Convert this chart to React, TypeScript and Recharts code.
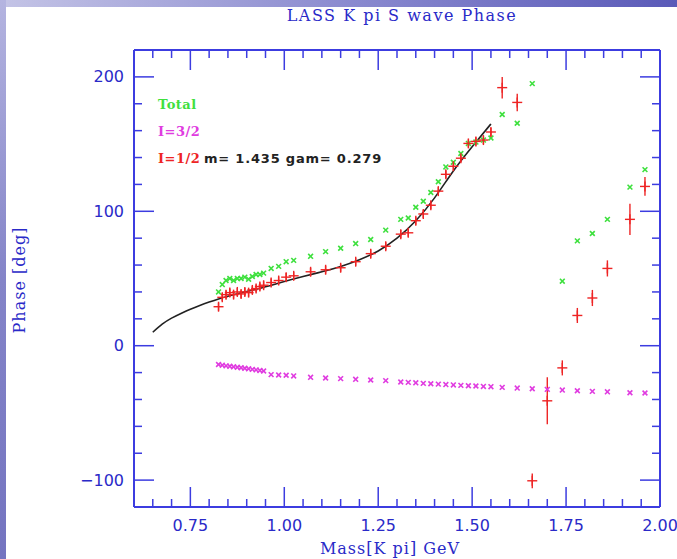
import React from 'react';
import { ComposedChart, XAxis, YAxis, Scatter, Line, ErrorBar } from 'recharts';

// ---- data ----
const massPoints = [
  0.825, 0.835, 0.845, 0.855, 0.865, 0.875, 0.885, 0.895, 0.905, 0.915, 0.925, 0.935, 0.945,
  0.965, 0.985, 1.005, 1.025, 1.07, 1.11, 1.15, 1.19, 1.23, 1.27,
  1.31, 1.33, 1.35, 1.37, 1.39, 1.41, 1.43, 1.45, 1.47, 1.49, 1.51, 1.53, 1.55,
  1.58, 1.62, 1.66, 1.70, 1.74, 1.78, 1.82, 1.86, 1.92, 1.96,
];
const totalPhase: (number | null)[] = [
  40, 45.5, 48.5, 50, 48.5, 50, 50, 51, 49.5, 51.5, 53, 53, 54,
  57.5, 59, 62.5, 63.5, 66.5, 70, 72.5, 76, 79, 86,
  94, 95, 103, 107.5, 114, 122, 133, 136.5, 143, 150.5, 151.5, 153, 154.5,
  172, 165.5, 195, null, 48, 78, 83.5, 94, 118, 131,
];
const i32Phase = [
  -14, -14.5, -15, -15.3, -15.7, -16, -16.4, -16.8, -17.2, -17.6, -18, -18.4, -18.8,
  -21.5, -21.8, -22, -22.5, -23.5, -24, -24.5, -25, -25.5, -26,
  -27, -27.3, -27.6, -28, -28.3, -28.6, -28.9, -29.2, -29.5, -29.8, -30, -30.3, -30.5,
  -31, -31.5, -32, -32.5, -33, -33.5, -34, -34.3, -35, -35.2,
];
const i12Phase = [
  29, 36, 38, 39.5, 38, 40, 38.5, 40, 39.5, 41.5, 42.5, 44, 45,
  47, 48.5, 51, 52, 55, 56.5, 58, 62.5, 68.5, 74,
  83, 84, 93, 98, 104.5, 115, 127.5, 133.5, 139.5, 150.5, 152, 153, 159,
  192, 181, -100.5, -41, -16.5, 22.5, 35.5, 57.5, 94, 118.5,
];
const i12Err = [
  3, 3, 3, 3, 3, 3, 3, 3, 3, 3, 3, 3, 3,
  3, 3, 3, 3, 3, 3, 3, 3, 3, 3,
  3, 3, 3, 3, 3, 3, 3, 3, 3, 3, 3, 3, 3,
  8, 6.5, 5.5, 17.5, 5.6, 5.6, 6, 6, 11.6, 7,
];
const fitMass = [
  0.65, 0.675, 0.7, 0.725, 0.75, 0.775, 0.8, 0.825, 0.85, 0.875, 0.9, 0.925, 0.95, 0.975,
  1.0, 1.05, 1.1, 1.15, 1.2, 1.25, 1.3, 1.35, 1.4, 1.45, 1.5, 1.55,
];
const fitPhase = [
  10, 16, 20.5, 24, 27.2, 30, 32.5, 34.8, 36.8, 38.6, 40.3, 42, 43.8, 45.8,
  47.8, 51.5, 55, 59, 64, 70.5, 80, 93, 110, 130, 148, 165,
];

const xMajorTicks = [0.75, 1.0, 1.25, 1.5, 1.75, 2.0];
const xTickLabels = ['0.75', '1.00', '1.25', '1.50', '1.75', '2.00'];
const xMinorTicks = [0.65, 0.7, 0.8, 0.85, 0.9, 0.95, 1.05, 1.1, 1.15, 1.2, 1.3, 1.35, 1.4, 1.45, 1.55, 1.6, 1.65, 1.7, 1.8, 1.85, 1.9, 1.95];
const yMajorTicks = [-100, 0, 100, 200];
const yTickLabels = ['\u2212100', '0', '100', '200'];
const yMinorTicks = [-80, -60, -40, -20, 20, 40, 60, 80, 120, 140, 160, 180];

const titleText = 'LASS K pi S wave Phase';
const xLabelText = 'Mass[K pi] GeV';
const yLabelText = 'Phase [deg]';
const legendTotal = 'Total';
const legendI32 = 'I=3/2';
const legendI12 = 'I=1/2';
const fitText = 'm= 1.435 gam= 0.279';

// ---- styles ----
const W = 677;
const H = 559;
const BLUE = '#3c3ce0';
const TXT = '#2a2ac8';
const GREEN = '#3ee03e';
const MAGENTA = '#e03ce0';
const RED = '#ee2424';

const totalData = massPoints
  .map((m, i) => ({ m, phase: totalPhase[i] }))
  .filter((d) => d.phase !== null);
const i32Data = massPoints.map((m, i) => ({ m, phase: i32Phase[i] }));
const i12Data = massPoints.map((m, i) => ({ m, phase: i12Phase[i], err: i12Err[i] }));
const fitData = fitMass.map((m, i) => ({ m, phase: fitPhase[i] }));

const xTicks = [...xMinorTicks, ...xMajorTicks].sort((a, b) => a - b);
const yTicks = [...yMinorTicks, ...yMajorTicks].sort((a, b) => a - b);
const majorIdx = (arr: number[], v: number) => arr.findIndex((t) => Math.abs(t - v) < 1e-6);

const MAJ = 20;
const MIN = 8;

const BottomTick = (p: any) => {
  const { x, y, payload } = p;
  const i = majorIdx(xMajorTicks, payload.value);
  const len = i >= 0 ? MAJ : MIN;
  return (
    <g>
      <line x1={x} x2={x} y1={y} y2={y - len} stroke={BLUE} strokeWidth={1.5} />
      {i >= 0 && (
        <text x={x} y={y + 18} textAnchor="middle" dominantBaseline="central" fill={TXT} fontSize={16} fontFamily="DejaVu Sans">
          {xTickLabels[i]}
        </text>
      )}
    </g>
  );
};
const TopTick = (p: any) => {
  const { x, y, payload } = p;
  const i = majorIdx(xMajorTicks, payload.value);
  const len = i >= 0 ? MAJ : MIN;
  return <line x1={x} x2={x} y1={y} y2={y + len} stroke={BLUE} strokeWidth={1.5} />;
};
const LeftTick = (p: any) => {
  const { x, y, payload } = p;
  const i = majorIdx(yMajorTicks, payload.value);
  const len = i >= 0 ? MAJ : MIN;
  return (
    <g>
      <line x1={x} x2={x + len} y1={y} y2={y} stroke={BLUE} strokeWidth={1.5} />
      {i >= 0 && (
        <text x={x - 10} y={y} textAnchor="end" dominantBaseline="central" fill={TXT} fontSize={16} fontFamily="DejaVu Sans">
          {yTickLabels[i]}
        </text>
      )}
    </g>
  );
};
const RightTick = (p: any) => {
  const { x, y, payload } = p;
  const i = majorIdx(yMajorTicks, payload.value);
  const len = i >= 0 ? MAJ : MIN;
  return <line x1={x} x2={x - len} y1={y} y2={y} stroke={BLUE} strokeWidth={1.5} />;
};

const makeX = (color: string) => (p: any) => {
  const { cx, cy } = p;
  const s = 2.4;
  return (
    <g>
      <line x1={cx - s} y1={cy - s} x2={cx + s} y2={cy + s} stroke={color} strokeWidth={1.6} />
      <line x1={cx - s} y1={cy + s} x2={cx + s} y2={cy - s} stroke={color} strokeWidth={1.6} />
    </g>
  );
};
const plusShape = (p: any) => {
  const { cx, cy } = p;
  const s = 5;
  return (
    <g>
      <line x1={cx - s} y1={cy} x2={cx + s} y2={cy} stroke={RED} strokeWidth={1.4} />
      <line x1={cx} y1={cy - s} x2={cx} y2={cy + s} stroke={RED} strokeWidth={1.4} />
    </g>
  );
};

export default function App() {
  const axisLine = { stroke: BLUE, strokeWidth: 2 };
  return (
    <div style={{ position: 'fixed', left: 0, top: 0, width: W, height: H, overflow: 'hidden', background: '#ffffff' }}>
      <div style={{ position: 'absolute', left: 0, top: 0, width: W, height: 7, background: 'linear-gradient(to right, #c4c4e6, #8c8cd0 50%, #5a5ab8)' }} />
      <div style={{ position: 'absolute', left: 0, top: 0, width: 6, height: H, background: 'linear-gradient(to bottom, #b4b4e0, #8484c8 50%, #7474c0)' }} />
      <div style={{ position: 'absolute', left: 0, top: 0 }}>
        <ComposedChart width={W} height={H} margin={{ top: 0, right: 0, bottom: 0, left: 0 }}>
          <XAxis
            xAxisId={0}
            dataKey="m"
            type="number"
            domain={[0.6, 2.0]}
            allowDataOverflow
            ticks={xTicks}
            interval={0}
            tickSize={0}
            tickMargin={0}
            tickLine={false}
            axisLine={axisLine}
            tick={<BottomTick />}
            height={52}
            orientation="bottom"
          />
          <XAxis
            xAxisId="top"
            dataKey="m"
            type="number"
            domain={[0.6, 2.0]}
            allowDataOverflow
            ticks={xTicks}
            interval={0}
            tickSize={0}
            tickMargin={0}
            tickLine={false}
            axisLine={axisLine}
            tick={<TopTick />}
            height={50}
            orientation="top"
          />
          <YAxis
            yAxisId={0}
            type="number"
            domain={[-120, 220]}
            allowDataOverflow
            ticks={yTicks}
            interval={0}
            tickSize={0}
            tickMargin={0}
            tickLine={false}
            axisLine={axisLine}
            tick={<LeftTick />}
            width={134}
            orientation="left"
          />
          <YAxis
            yAxisId="right"
            type="number"
            domain={[-120, 220]}
            allowDataOverflow
            ticks={yTicks}
            interval={0}
            tickSize={0}
            tickMargin={0}
            tickLine={false}
            axisLine={axisLine}
            tick={<RightTick />}
            width={17}
            orientation="right"
          />
          <Line
            data={fitData}
            dataKey="phase"
            type="natural"
            dot={false}
            stroke="#222222"
            strokeWidth={1.6}
            isAnimationActive={false}
          />
          <Scatter data={totalData} dataKey="phase" shape={makeX(GREEN)} isAnimationActive={false} />
          <Scatter data={i32Data} dataKey="phase" shape={makeX(MAGENTA)} isAnimationActive={false} />
          <Scatter data={i12Data} dataKey="phase" shape={plusShape} isAnimationActive={false}>
            <ErrorBar dataKey="err" direction="y" width={0} stroke={RED} strokeWidth={1.4} isAnimationActive={false} />
          </Scatter>
        </ComposedChart>
      </div>
      <svg width={W} height={H} style={{ position: 'absolute', left: 0, top: 0, pointerEvents: 'none' }}>
        <text x={402} y={15} textAnchor="middle" dominantBaseline="central" fill={TXT} fontSize={16} fontFamily="DejaVu Serif" letterSpacing={1.5}>
          {titleText}
        </text>
        <text x={390} y={548} textAnchor="middle" dominantBaseline="central" fill={TXT} fontSize={16} fontFamily="DejaVu Serif" letterSpacing={1}>
          {xLabelText}
        </text>
        <text x={19} y={280} textAnchor="middle" dominantBaseline="central" fill={TXT} fontSize={16} fontFamily="DejaVu Serif" letterSpacing={1} transform="rotate(-90 19 280)">
          {yLabelText}
        </text>
        <text x={158} y={104} dominantBaseline="central" fill={GREEN} fontSize={13} fontFamily="DejaVu Serif" fontWeight="bold" letterSpacing={0.5}>
          {legendTotal}
        </text>
        <text x={158} y={131} dominantBaseline="central" fill={MAGENTA} fontSize={13} fontFamily="DejaVu Serif" fontWeight="bold" letterSpacing={0.5}>
          {legendI32}
        </text>
        <text x={158} y={158} dominantBaseline="central" fill={RED} fontSize={13} fontFamily="DejaVu Serif" fontWeight="bold" letterSpacing={0.5}>
          {legendI12}
        </text>
        <text x={204} y={158} dominantBaseline="central" fill="#222222" fontSize={13} fontFamily="DejaVu Sans" fontWeight="bold" letterSpacing={0.8}>
          {fitText}
        </text>
      </svg>
    </div>
  );
}
